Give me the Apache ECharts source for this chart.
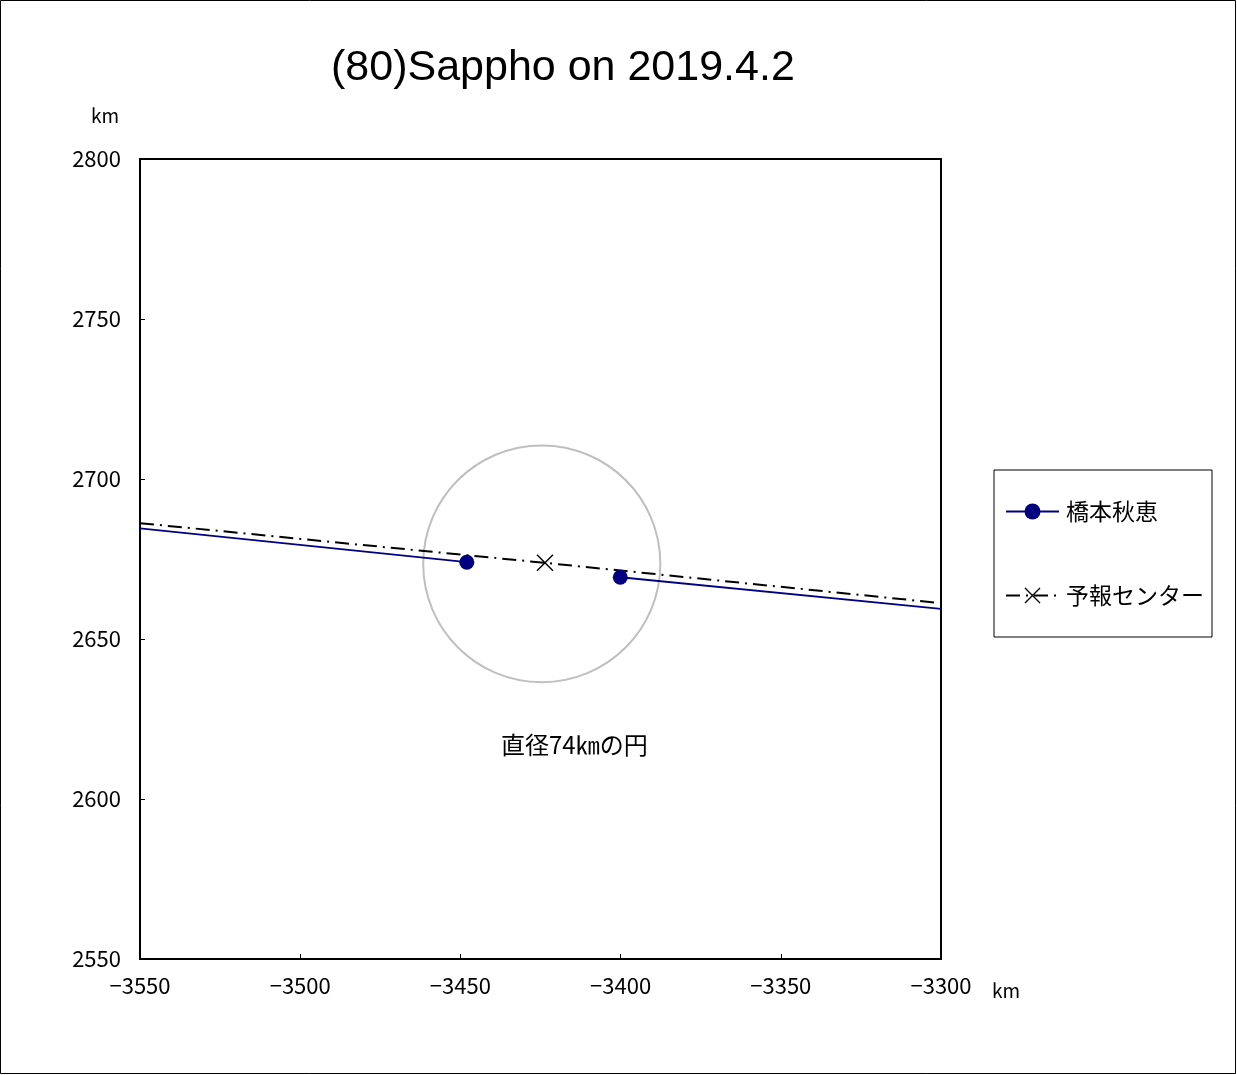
<!DOCTYPE html>
<html>
<head>
<meta charset="utf-8">
<script src="https://cdn.jsdelivr.net/npm/echarts@6/dist/echarts.min.js"></script>
<style>
html,body{margin:0;padding:0;background:#fff;}
#c{width:1237px;height:1075px;}
</style>
</head>
<body>
<div id="c"></div>
<script>
// ---- data ----
const titleText = '(80)Sappho on 2019.4.2';
const xTicks = [-3550, -3500, -3450, -3400, -3350, -3300];
const yTicks = [2550, 2600, 2650, 2700, 2750, 2800];
const observerName = '橋本秋恵';
const observerLineX = [-3550, -3448.0, -3400.1, -3300];
const observerLineY = [2684.6, 2674.0, 2669.3, 2659.4];
const observerMarked = [false, true, true, false];
const predictName = '予報センター';
const predictX = [-3550, -3423.6, -3300];
const predictY = [2686.2, 2673.8, 2661.2];
const predictMarked = [false, true, false];
const circleCenter = [-3424.6, 2673.5];
const circleDiameter = 74;
const circleLabel = '直径74㎞の円';

const FONT = '"Noto Sans CJK JP", "Noto Sans", sans-serif';
const minus = v => String(v).replace('-', '\u2212');

const obsData = [];
for (let i = 0; i < observerLineX.length; i++) {
  obsData.push({value: [observerLineX[i], observerLineY[i]], symbol: observerMarked[i] ? 'circle' : 'none'});
  if (i === 1) obsData.push('-');
}
const predData = predictX.map((x, i) => ({value: [x, predictY[i]], symbol: predictMarked[i] ? undefined : 'none'}));

const xSym = 'path://M0,0.6L0.6,0L10,9.4L9.4,10Z M9.4,0L10,0.6L0.6,10L0,9.4Z';

const chart = echarts.init(document.getElementById('c'), null, {renderer: 'canvas'});
chart.setOption({
  backgroundColor: '#fff',
  animation: false,
  textStyle: {fontFamily: FONT},
  title: {
    text: titleText, left: 326, top: 42,
    textStyle: {fontFamily: '"Liberation Sans", Arial, sans-serif', fontSize: 43, fontWeight: 'normal', color: '#000'}
  },
  grid: {left: 140, right: 296, top: 159, bottom: 116, show: true, borderColor: '#000', borderWidth: 2, backgroundColor: 'transparent'},
  xAxis: {
    type: 'value', min: xTicks[0], max: xTicks[xTicks.length - 1], interval: 50,
    axisLine: {show: true, onZero: false, lineStyle: {color: '#000', width: 2}},
    axisTick: {show: true, inside: true, length: 5, lineStyle: {color: '#000'}},
    splitLine: {show: false},
    axisLabel: {margin: 16, fontSize: 22, color: '#000', fontFamily: FONT, formatter: minus}
  },
  yAxis: {
    type: 'value', min: yTicks[0], max: yTicks[yTicks.length - 1], interval: 50,
    axisLine: {show: true, onZero: false, lineStyle: {color: '#000', width: 2}},
    axisTick: {show: true, inside: true, length: 5, lineStyle: {color: '#000'}},
    splitLine: {show: false},
    axisLabel: {margin: 19, fontSize: 22, color: '#000', fontFamily: FONT, formatter: v => String(v)}
  },
  legend: {
    orient: 'vertical', left: 994, top: 470,
    padding: [30, 8, 30, 11],
    itemGap: 61, itemWidth: 53, itemHeight: 20,
    borderColor: '#000', borderWidth: 1, backgroundColor: '#fff',
    textStyle: {fontSize: 23, color: '#000', fontFamily: FONT, padding: [0, 0, 0, 2]},
    data: [observerName, predictName]
  },
  graphic: [
    {type: 'rect', x: 0, y: 0, shape: {x: 0.5, y: 0.5, width: 1235, height: 1073}, style: {fill: 'none', stroke: '#000', lineWidth: 1}, z: 100},
    {type: 'text', left: 91, top: 106, style: {text: 'km', fontSize: 19, fill: '#000', fontFamily: FONT}},
    {type: 'text', left: 992, top: 981, style: {text: 'km', fontSize: 19, fill: '#000', fontFamily: FONT}},
    {type: 'text', left: 501, top: 733, style: {text: circleLabel, fontSize: 24, fill: '#000', fontFamily: FONT}}
  ],
  series: [
    {
      name: 'circle', type: 'custom', silent: true, z: 1,
      data: [[circleCenter[0], circleCenter[1], circleDiameter / 2]],
      renderItem: function (params, api) {
        const c = api.coord([api.value(0), api.value(1)]);
        const r = api.value(2);
        const s = api.size([r, r]);
        return {type: 'ellipse', shape: {cx: c[0], cy: c[1], rx: s[0], ry: s[1]},
          style: {fill: 'none', stroke: '#bfbfbf', lineWidth: 2}};
      }
    },
    {
      name: observerName, type: 'line', z: 3,
      data: obsData, connectNulls: false,
      symbol: 'circle', symbolSize: 15,
      itemStyle: {color: '#000080'},
      lineStyle: {color: '#000080', width: 1.8}
    },
    {
      name: predictName, type: 'line', z: 2,
      data: predData,
      symbol: xSym, symbolSize: 17,
      itemStyle: {color: '#000'},
      lineStyle: {color: '#000', width: 2, type: [14, 6, 2, 6]}
    }
  ]
});
</script>
</body>
</html>
